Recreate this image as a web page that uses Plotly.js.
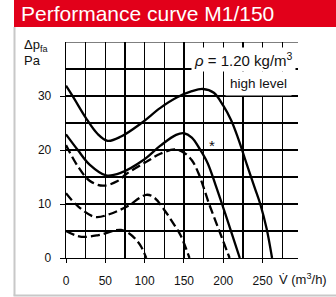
<!DOCTYPE html>
<html><head><meta charset="utf-8">
<script src="https://cdn.plot.ly/plotly-3.0.1.min.js"></script>
<style>html,body{margin:0;padding:0;background:#fff}#chart{width:336px;height:297px}</style>
</head><body><div id="chart"></div>
<script>
// Curve data (x: flow m³/h, y: Δp_fa Pa)
const xA = [0, 10, 25, 40, 53, 70, 96, 120, 142, 160, 174, 188, 200, 210, 219, 230, 240, 247, 255, 262];
const yA = [31.9, 29.6, 26, 23, 21.7, 22.5, 25, 27.8, 29.8, 30.9, 31.3, 30.6, 28.2, 25.5, 22.1, 17.3, 13, 10, 5.5, 0];
const xB = [0, 15, 30, 51, 70, 98, 120, 140, 150, 160, 170, 180, 190, 200, 210, 221];
const yB = [22.9, 20, 17.3, 15.3, 15.8, 18.1, 20.8, 22.8, 23.1, 22.3, 20.2, 17.6, 13.6, 9.3, 4.9, 0];
const xC = [0, 15, 30, 47, 65, 77, 102, 120, 138, 150, 160, 169, 182, 195, 208];
const yC = [20.9, 17, 14.3, 13.4, 14.2, 15.6, 17.8, 19.3, 20.1, 19.5, 18.1, 15.5, 10, 5, 0];
const xD = [0, 15, 37, 55, 77, 102, 112, 125, 136, 146, 157];
const yD = [12, 9.6, 7.6, 8.1, 9.5, 11.7, 11.2, 8.9, 6.5, 4.1, 0];
const xE = [0, 12, 24, 40, 51, 62, 70, 80, 89, 96, 102];
const yE = [5, 4.2, 3.9, 4.2, 4.6, 5.1, 5.2, 4.6, 3.4, 2, 0];
const xTicks = [0, 50, 100, 150, 200, 250];
const yTicks = [0, 10, 20, 30];
const starPoint = {x: 185.7, y: 20.9};

const FONT = '"Liberation Sans", Arial, Helvetica, sans-serif';
function curve(x, y, dash) {
  return {x: x, y: y, type: 'scatter', mode: 'lines', hoverinfo: 'skip',
    line: {color: '#000', width: 2.3, shape: 'spline', smoothing: 1, dash: dash}};
}
const data = [
  curve(xA, yA, 'solid'),
  curve(xB, yB, 'solid'),
  curve(xC, yC, '9px,4px'),
  curve(xD, yD, '9px,4px'),
  curve(xE, yE, '9px,4px')
];

// plot area: l=66, r=38, t=42, b=39 -> 232 x 216 px
const L = 66, W = 232, T = 42, H = 216;
const px = v => (v - L) / W;
const py = v => (T + H - v) / H;

const layout = {
  width: 336, height: 297,
  margin: {l: L, r: 336 - L - W, t: T, b: 297 - T - H},
  paper_bgcolor: '#fff', plot_bgcolor: '#fff',
  showlegend: false,
  font: {family: FONT, size: 12, color: '#111'},
  xaxis: {range: [0, 295], tickvals: xTicks, ticks: 'outside', ticklen: 4, tickcolor: '#000',
    ticklabelstandoff: 7,
    showgrid: true, gridcolor: '#000', gridwidth: 1.1, zeroline: false,
    showline: true, linecolor: '#000', linewidth: 1.3,
    minor: {dtick: 25, tick0: 0, showgrid: true, gridcolor: '#000', gridwidth: 1.1, ticks: ''},
    tickfont: {size: 12, family: FONT, color: '#111'}, fixedrange: true},
  yaxis: {range: [0, 40], tickvals: yTicks, ticks: 'outside', ticklen: 5, tickcolor: '#000',
    ticklabelstandoff: 6,
    showgrid: true, gridcolor: '#000', gridwidth: 1.1, zeroline: false,
    showline: true, linecolor: '#000', linewidth: 1.3,
    minor: {dtick: 5, tick0: 0, showgrid: true, gridcolor: '#000', gridwidth: 1.1, ticks: ''},
    tickfont: {size: 12, family: FONT, color: '#111'}, fixedrange: true},
  shapes: [
    {type: 'rect', xref: 'paper', yref: 'paper', x0: px(14), x1: px(340), y0: py(27), y1: py(-2),
      fillcolor: '#e2001a', line: {width: 0}, layer: 'below'},
    {type: 'line', xref: 'paper', yref: 'paper', x0: px(14.5), x1: px(14.5), y0: py(27), y1: py(295.5),
      line: {color: '#c8c8c8', width: 2}},
    {type: 'line', xref: 'paper', yref: 'paper', x0: px(13.5), x1: px(340), y0: py(295.5), y1: py(295.5),
      line: {color: '#c8c8c8', width: 2}},
    {type: 'line', xref: 'x', yref: 'y', x0: 0, x1: 295, y0: 40, y1: 40,
      line: {color: '#000', width: 1.2}}
  ],
  annotations: [
    {text: 'Performance curve M1/150', xref: 'paper', yref: 'paper', x: px(19), y: py(13.5),
      xanchor: 'left', yanchor: 'middle', showarrow: false,
      font: {family: FONT, size: 21, color: '#fff'}},
    {text: 'Δp<sub>fa</sub>', xref: 'paper', yref: 'paper', x: px(22), y: py(46),
      xanchor: 'left', yanchor: 'middle', showarrow: false, font: {family: FONT, size: 13, color: '#111'}},
    {text: 'Pa', xref: 'paper', yref: 'paper', x: px(22), y: py(61),
      xanchor: 'left', yanchor: 'middle', showarrow: false, font: {family: FONT, size: 13, color: '#111'}},
    {text: 'V\u0307 (m<sup>3</sup>/h)', xref: 'paper', yref: 'paper', x: px(277), y: py(279),
      xanchor: 'left', yanchor: 'middle', showarrow: false, font: {family: FONT, size: 13, color: '#111'}},
    {text: '<i>ρ</i> = 1.20 kg/m<sup>3</sup>', xref: 'x', yref: 'y', x: 292, y: 36.8,
      xanchor: 'right', yanchor: 'middle', showarrow: false, bgcolor: '#fff', borderpad: 2,
      font: {family: FONT, size: 15, color: '#111'}},
    {text: 'high level', xref: 'x', yref: 'y', x: 245, y: 32.4,
      xanchor: 'center', yanchor: 'middle', showarrow: false, bgcolor: '#fff', borderpad: 4,
      font: {family: FONT, size: 13.5, color: '#111'}},
    {text: '*', xref: 'x', yref: 'y', x: starPoint.x, y: starPoint.y,
      xanchor: 'center', yanchor: 'middle', showarrow: false,
      font: {family: FONT, size: 15, color: '#111'}}
  ]
};

Plotly.newPlot('chart', data, layout, {staticPlot: true, displayModeBar: false});
</script>
</body></html>
